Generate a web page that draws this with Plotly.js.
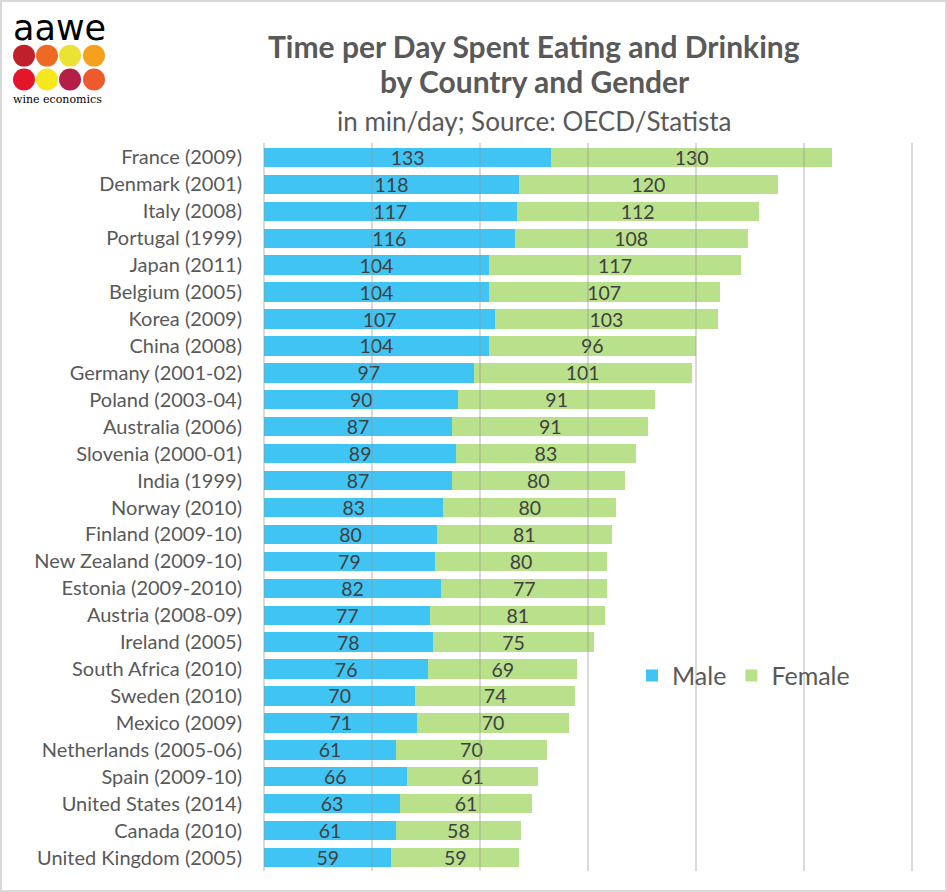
<!DOCTYPE html>
<html>
<head>
<meta charset="utf-8">
<script src="https://cdn.plot.ly/plotly-3.0.1.min.js"></script>
<style>
html,body{margin:0;padding:0;background:#fff;}
#wrap{position:relative;width:947px;height:892px;}
#chart{width:947px;height:892px;}
#frame{position:absolute;left:0;top:0;width:947px;height:892px;box-sizing:border-box;border:2px solid #d9d9d9;pointer-events:none;}
</style>
</head>
<body>
<div id="wrap"><div id="chart"></div><div id="frame"></div></div>
<script>
const countries = ["France (2009)","Denmark (2001)","Italy (2008)","Portugal (1999)","Japan (2011)","Belgium (2005)","Korea (2009)","China (2008)","Germany (2001-02)","Poland (2003-04)","Australia (2006)","Slovenia (2000-01)","India (1999)","Norway (2010)","Finland (2009-10)","New Zealand (2009-10)","Estonia (2009-2010)","Austria (2008-09)","Ireland (2005)","South Africa (2010)","Sweden (2010)","Mexico (2009)","Netherlands (2005-06)","Spain (2009-10)","United States (2014)","Canada (2010)","United Kingdom (2005)"];
const male   = [133,118,117,116,104,104,107,104,97,90,87,89,87,83,80,79,82,77,78,76,70,71,61,66,63,61,59];
const female = [130,120,112,108,117,107,103,96,101,91,91,83,80,80,81,80,77,81,75,69,74,70,70,61,61,58,59];
const gridTicks = [0,50,100,150,200,250,300];

const L=263, R=913, T=143.5, B=871.5;
const fx = px => (px-L)/(R-L);
const fy = py => (B-py)/(B-T);

const FONT = "Lato, 'Open Sans', sans-serif";
const labelFont = {family: FONT, size: 19.5, color: '#404040'};

const traces = [
  {type:'bar', orientation:'h', name:'Male', y:countries, x:male, text:male.map(String),
   textposition:'inside', insidetextanchor:'middle', textangle:0, constraintext:'none',
   insidetextfont:labelFont, marker:{color:'#3FC4F4'}, hoverinfo:'x+y'},
  {type:'bar', orientation:'h', name:'Female', y:countries, x:female, text:female.map(String),
   textposition:'inside', insidetextanchor:'middle', textangle:0, constraintext:'none',
   insidetextfont:labelFont, marker:{color:'#B9E08B'}, hoverinfo:'x+y'}
];

const logoColors = [['#C0202A','#EE6A23','#EBE234','#F6A01E'],['#E3162A','#F8E71C','#B51F47','#EC5A2E']];
const shapes = [];
const cx = [24,47,70,94], cy = [55,79], r = 11;
for (let i=0;i<2;i++) for (let j=0;j<4;j++) {
  shapes.push({type:'circle', xref:'paper', yref:'paper',
    x0:fx(cx[j]-r), x1:fx(cx[j]+r), y0:fy(cy[i]+r), y1:fy(cy[i]-r),
    fillcolor:logoColors[i][j], line:{width:0}});
}

const annotations = [
  {text:'<b>Time per Day Spent Eating and Drinking</b>', xref:'paper', yref:'paper', x:fx(534), y:fy(45), showarrow:false, xanchor:'center', yanchor:'middle', font:{family:FONT, size:30, color:'#595959'}},
  {text:'<b>by Country and Gender</b>', xref:'paper', yref:'paper', x:fx(535), y:fy(80), showarrow:false, xanchor:'center', yanchor:'middle', font:{family:FONT, size:30, color:'#595959'}},
  {text:'in min/day; Source: OECD/Statista', xref:'paper', yref:'paper', x:fx(534), y:fy(120), showarrow:false, xanchor:'center', yanchor:'middle', font:{family:FONT, size:26, color:'#595959'}},
  {text:'aawe', xref:'paper', yref:'paper', x:fx(11), y:fy(27), showarrow:false, xanchor:'left', yanchor:'middle', font:{family:"'DejaVu Sans', sans-serif", size:35, color:'#000'}},
  {text:'wine economics', xref:'paper', yref:'paper', x:fx(11), y:fy(99), showarrow:false, xanchor:'left', yanchor:'middle', font:{family:"'DejaVu Serif', serif", size:11, color:'#000'}}
];

const layout = {
  width:947, height:892,
  margin:{l:L, r:947-R, t:T, b:892-B, pad:0},
  paper_bgcolor:'#fff', plot_bgcolor:'#fff',
  barmode:'stack', bargap:0.28,
  showlegend:true,
  legend:{orientation:'h', x:fx(632), y:fy(676), xanchor:'left', yanchor:'middle',
    font:{family:FONT, size:25, color:'#595959'}, bgcolor:'rgba(0,0,0,0)', traceorder:'normal'},
  xaxis:{range:[-0.5,300.5], tickvals:gridTicks, showticklabels:false, showgrid:false, zeroline:false,
    ticks:'inside', ticklen:B-T, tickwidth:2, tickcolor:'rgba(150,150,150,0.35)', layer:'above traces', fixedrange:true},
  yaxis:{autorange:'reversed', type:'category', showgrid:false, zeroline:false, showline:false,
    ticks:'outside', ticklen:16, tickcolor:'rgba(0,0,0,0)',
    tickfont:{family:FONT, size:20, color:'#595959'}, fixedrange:true},
  shapes:shapes,
  annotations:annotations
};

Plotly.newPlot('chart', traces, layout, {displayModeBar:false, staticPlot:true});
</script>
</body>
</html>
